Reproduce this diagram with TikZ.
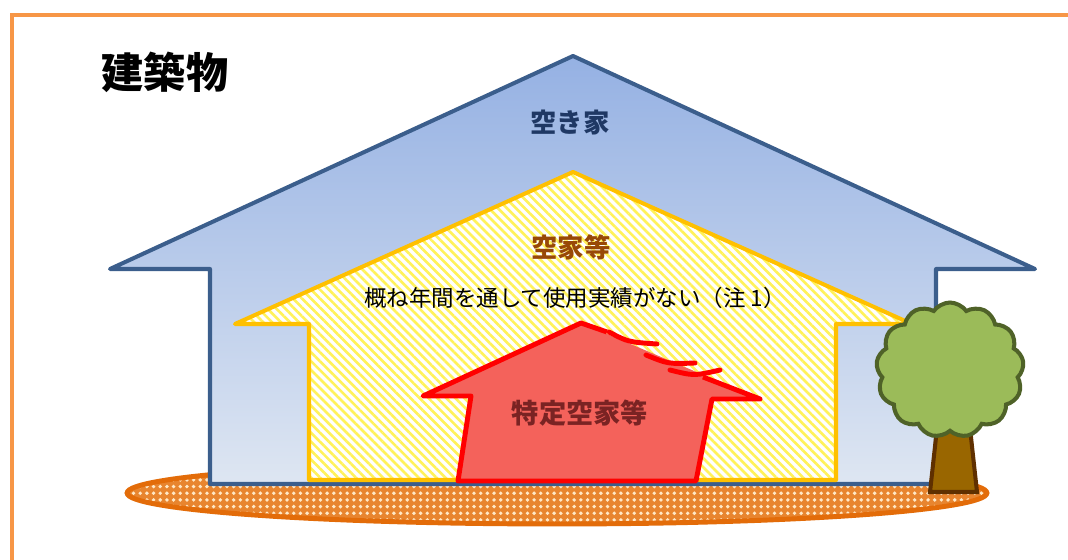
\documentclass[tikz,border=0pt]{standalone}
\usepackage{fontspec}
\newfontfamily\jpfont{Noto Sans CJK JP}
\usetikzlibrary{shapes.symbols, patterns.meta, positioning}

\definecolor{frameorange}{HTML}{F79646}
\definecolor{roofblue}{HTML}{3B5E8C}
\definecolor{skytop}{HTML}{95B1E3}
\definecolor{skybottom}{HTML}{DEE6F2}
\definecolor{akiyablue}{HTML}{1F3864}
\definecolor{hatchyellow}{HTML}{FFC000}
\definecolor{stripeyellow}{HTML}{FFF25A}
\definecolor{akiyabrown}{HTML}{984807}
\definecolor{dangerred}{HTML}{FF0000}
\definecolor{dangerfill}{HTML}{F4625B}
\definecolor{dangertext}{HTML}{7A2323}
\definecolor{groundorange}{HTML}{E36C09}
\definecolor{groundlight}{HTML}{E8852F}
\definecolor{groundcream}{HTML}{FFE8C6}
\definecolor{leafgreen}{HTML}{9BBB59}
\definecolor{leafdark}{HTML}{4F6228}
\definecolor{barkbrown}{HTML}{996600}
\definecolor{barkdark}{HTML}{5F3000}

\begin{document}
\begin{tikzpicture}[
    x=0.02cm, y=-0.02cm,
    font=\jpfont,
    frameline/.style={draw=frameorange, line width=2.3pt},
    outerhouse/.style={draw=roofblue, line width=2.3pt, line join=round,
        top color=skytop, bottom color=skybottom},
    innerhouse/.style={draw=hatchyellow, line width=2.3pt, line join=round, preaction={fill=white},
        pattern={Lines[angle=-45, distance=3.6pt, line width=1.5pt]}, pattern color=stripeyellow},
    dangerline/.style={draw=dangerred, line width=2.8pt, line cap=round, line join=round},
    ground/.style={draw=groundorange, line width=2.8pt, preaction={fill=groundlight},
        pattern={Dots[distance=3.8pt, radius=1.1pt]}, pattern color=groundcream},
    label/.style={font=\jpfont\bfseries\fontsize{#1}{#1}\selectfont}
]

    \useasboundingbox (0,0) rectangle (1068,560);

    % Outer frame
    \draw[frameline] (12,570) -- (12,15) -- (1080,15);

    % Ground under the houses
    \draw[ground] (557,493) ellipse [x radius=8.6cm, y radius=0.62cm];

    % Buildings: the big house
    \draw[outerhouse] (573,56) -- (1035,269) -- (936,269) -- (936,484)
        -- (210,484) -- (210,269) -- (110,269) -- cycle;

    % Vacant houses
    \draw[innerhouse] (573,172) -- (912,324) -- (836,324) -- (836,480)
        -- (309,480) -- (309,324) -- (235,324) -- cycle;

    % Specified vacant house with a broken roof
    \fill[dangerfill] (581,323) -- (760,399) -- (712,399) -- (696,481)
        -- (458,481) -- (471,396) -- (423,396) -- cycle;
    \draw[dangerline, line cap=butt] (607,332) -- (581,323) -- (423,396) -- (471,396)
        -- (458,481) -- (696,481) -- (712,399) -- (760,399) -- (703,377);
    \draw[dangerline] (609,332) .. controls (628,342) .. (657,344);
    \draw[dangerline] (646,355) .. controls (668,364) .. (695,363);
    \draw[dangerline] (670,370) .. controls (694,376) .. (720,370);

    % Tree
    \draw[fill=barkbrown, draw=barkdark, line width=2.3pt]
        (939,410) -- (968,410) -- (977,492) -- (930,492) -- cycle;
    \node[cloud, cloud puffs=13, cloud puff arc=110, aspect=1.1,
        minimum width=2.95cm, minimum height=2.7cm, inner sep=0pt,
        fill=leafgreen, draw=leafdark, line width=2.3pt] (canopy) at (950,370) {};

    % Labels
    \node[label=24pt] (building) at (165,72) {建築物};
    \node[label=15pt, text=akiyablue] (akiya) at (570,123) {空き家};
    \node[label=15pt, text=akiyabrown] (akiyatou) at (571,247) {空家等};
    \node[font=\jpfont\fontsize{12.8pt}{14pt}\selectfont] (note) at (575,298)
        {概ね年間を通して使用実績がない（注 1）};
    \node[label=15.5pt, text=dangertext] (tokutei) at (580,413) {特定空家等};

\end{tikzpicture}
\end{document}
